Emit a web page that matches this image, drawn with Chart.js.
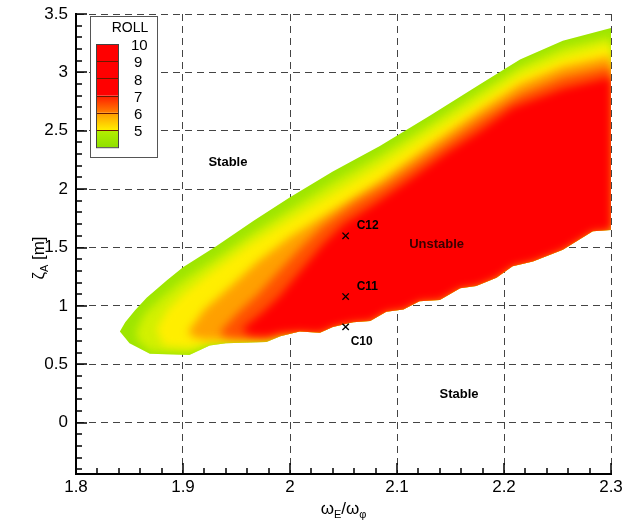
<!DOCTYPE html>
<html>
<head>
<meta charset="utf-8">
<script src="https://cdn.jsdelivr.net/npm/chart.js@4/dist/chart.umd.min.js"></script>
<style>
  html, body { margin: 0; padding: 0; background: #fff; }
</style>
</head>
<body>
<canvas id="roll" width="629" height="521"></canvas>
<script>
const xTicks = [1.8, 1.9, 2.0, 2.1, 2.2, 2.3];
const yTicks = [0, 0.5, 1, 1.5, 2, 2.5, 3, 3.5];
const rollLevels = [10, 9, 8, 7, 6, 5];

// bottom edge of the unstable zone, right part (same for every level)
const bottomEdge = [[2.300,1.65],[2.283,1.64],[2.255,1.48],[2.227,1.38],[2.208,1.34],[2.193,1.24],[2.174,1.17],[2.159,1.15],[2.140,1.05],[2.121,1.04],[2.106,0.97],[2.090,0.95],[2.075,0.87],[2.059,0.86],[2.040,0.82],[2.028,0.77],[2.009,0.78]];

// contour levels: top side from the tip to x = 2.3, then the left part of the bottom
const roll5Top = [[1.841,0.78],[1.846,0.86],[1.855,0.96],[1.866,1.07],[1.885,1.22],[1.900,1.33],[1.931,1.51],[1.966,1.73],[2.000,1.93],[2.040,2.15],[2.084,2.37],[2.131,2.63],[2.178,2.90],[2.215,3.11],[2.255,3.27],[2.300,3.38]];
const roll5Low = [[1.991,0.74],[1.978,0.69],[1.940,0.68],[1.925,0.66],[1.906,0.58],[1.869,0.59],[1.850,0.68]];

const roll55Top = [[1.856,0.78],[1.864,0.93],[1.880,1.07],[1.900,1.22],[1.931,1.41],[1.966,1.63],[2.000,1.83],[2.040,2.06],[2.084,2.29],[2.131,2.56],[2.178,2.84],[2.215,3.05],[2.255,3.21],[2.300,3.31]];
const roll55Low = [[1.991,0.75],[1.978,0.70],[1.940,0.69],[1.925,0.67],[1.906,0.60],[1.870,0.61],[1.858,0.70]];

const roll6Top = [[1.875,0.80],[1.885,0.96],[1.900,1.10],[1.925,1.28],[1.963,1.53],[2.000,1.74],[2.040,1.96],[2.084,2.20],[2.131,2.48],[2.178,2.76],[2.215,2.98],[2.255,3.13],[2.300,3.24]];
const roll6Low = [[1.991,0.755],[1.978,0.71],[1.940,0.70],[1.925,0.69],[1.906,0.64],[1.882,0.66]];

const roll65Top = [[1.905,0.78],[1.920,0.97],[1.945,1.17],[1.970,1.38],[2.000,1.59],[2.040,1.82],[2.084,2.07],[2.131,2.38],[2.178,2.68],[2.215,2.90],[2.255,3.05],[2.300,3.14]];
const roll65Low = [[1.991,0.76],[1.978,0.72],[1.945,0.71],[1.920,0.71],[1.908,0.74]];

const roll7Top = [[1.935,0.78],[1.950,0.93],[1.970,1.10],[1.990,1.30],[2.010,1.50],[2.030,1.68],[2.060,1.88],[2.090,2.04],[2.131,2.30],[2.178,2.60],[2.215,2.81],[2.255,2.96],[2.300,3.05]];
const roll7Low = [[1.991,0.76],[1.978,0.725],[1.950,0.72],[1.937,0.74]];

const roll8Top = [[1.955,0.80],[1.975,0.95],[1.990,1.08],[2.010,1.30],[2.030,1.52],[2.050,1.70],[2.080,1.88],[2.110,2.07],[2.146,2.31],[2.178,2.50],[2.208,2.70],[2.255,2.86],[2.300,2.96]];
const roll8Low = [[1.991,0.77],[1.978,0.74],[1.962,0.75]];

const caseNames = ['C10', 'C11', 'C12'];
const caseX = [2.052, 2.052, 2.052];
const caseY = [0.82, 1.08, 1.60];

const zoneNames = ['Stable', 'Unstable', 'Stable'];
const zoneX = [1.942, 2.137, 2.158];
const zoneY = [2.23, 1.53, 0.24];

const FONT = "'Liberation Sans', Arial, sans-serif";

const shape = (top, low) => top.concat(bottomEdge, low).map(([x, y]) => ({x, y}));
const outline = shape(roll5Top, roll5Low);

function layer(label, top, low, color, order, soft) {
    return {
        label: label,
        data: shape(top, low),
        showLine: true,
        fill: 'shape',
        backgroundColor: color,
        borderColor: 'rgba(0,0,0,0)',
        borderWidth: 0,
        pointRadius: 0,
        tension: 0,
        order: order,
        soft: soft
    };
}

// inner levels get blurred and clipped to the outer contour
const softEdges = {
    id: 'softEdges',
    beforeDatasetDraw(chart, args) {
        if (!chart.data.datasets[args.index].soft) return;
        const {ctx, scales: {x, y}} = chart;
        ctx.save();
        ctx.beginPath();
        outline.forEach((p, i) => {
            const px = x.getPixelForValue(p.x), py = y.getPixelForValue(p.y);
            if (i) ctx.lineTo(px, py); else ctx.moveTo(px, py);
        });
        ctx.closePath();
        ctx.clip();
        ctx.filter = 'blur(4px)';
    },
    afterDatasetDraw(chart, args) {
        if (chart.data.datasets[args.index].soft) chart.ctx.restore();
    }
};

// filler has to run after the blur setup
if (Chart.Filler) {
    Chart.unregister(Chart.Filler);
    Chart.register(softEdges, Chart.Filler);
} else {
    Chart.register(softEdges);
}

// inward major and minor ticks
const axisTicks = {
    id: 'axisTicks',
    afterDraw(chart) {
        const {ctx, chartArea: a, scales: {x, y}} = chart;
        ctx.save();
        ctx.setLineDash([]);
        ctx.filter = 'none';
        ctx.strokeStyle = '#000';
        ctx.lineWidth = 1.5;
        ctx.beginPath();
        for (let i = 0; i <= 25; i++) {
            const px = Math.round(x.getPixelForValue(1.8 + i * 0.02));
            ctx.moveTo(px, a.bottom);
            ctx.lineTo(px, a.bottom - (i % 5 === 0 ? 11 : 6));
        }
        for (let i = -4; i <= 35; i++) {
            const py = Math.round(y.getPixelForValue(i / 10));
            ctx.moveTo(a.left, py);
            ctx.lineTo(a.left + (i % 5 === 0 ? 11 : 6), py);
        }
        ctx.stroke();
        ctx.restore();
    }
};

const decorations = {
    id: 'decorations',
    afterDraw(chart) {
        const {ctx, chartArea: a, scales: {x, y}} = chart;
        ctx.save();

        // zone labels
        ctx.textAlign = 'center';
        ctx.textBaseline = 'middle';
        ctx.font = 'bold 13px ' + FONT;
        zoneNames.forEach((t, i) => {
            ctx.fillStyle = t === 'Unstable' ? '#3a0000' : '#000';
            ctx.fillText(t, x.getPixelForValue(zoneX[i]), y.getPixelForValue(zoneY[i]));
        });

        // case labels
        ctx.fillStyle = '#000';
        ctx.font = 'bold 12px ' + FONT;
        ctx.textAlign = 'left';
        caseNames.forEach((t, i) => {
            const px = x.getPixelForValue(caseX[i]), py = y.getPixelForValue(caseY[i]);
            if (i === 0) ctx.fillText(t, px + 5, py + 15);
            else ctx.fillText(t, px + 11, py - 10);
        });

        // axis titles
        ctx.textAlign = 'left';
        ctx.textBaseline = 'alphabetic';
        const big = '17px ' + FONT, sub = '11px ' + FONT;
        const parts = [['ω', false], ['E', true], ['/ω', false], ['φ', true]];
        let w = 0;
        parts.forEach(([t, s]) => { ctx.font = s ? sub : big; w += ctx.measureText(t).width; });
        let cx = (a.left + a.right) / 2 - w / 2;
        parts.forEach(([t, s]) => {
            ctx.font = s ? sub : big;
            ctx.fillText(t, cx, s ? 518 : 514);
            cx += ctx.measureText(t).width;
        });

        ctx.translate(44, 258);
        ctx.rotate(-Math.PI / 2);
        const yparts = [['ζ', false], ['A', true], [' [m]', false]];
        w = 0;
        yparts.forEach(([t, s]) => { ctx.font = s ? sub : big; w += ctx.measureText(t).width; });
        cx = -w / 2;
        yparts.forEach(([t, s]) => {
            ctx.font = s ? sub : big;
            ctx.fillText(t, cx, s ? 4 : 0);
            cx += ctx.measureText(t).width;
        });
        ctx.restore();

        // legend box
        ctx.save();
        ctx.fillStyle = '#fff';
        ctx.fillRect(90.5, 16.5, 67, 141);
        ctx.strokeStyle = '#555';
        ctx.lineWidth = 1;
        ctx.strokeRect(90.5, 16.5, 67, 141);
        ctx.fillStyle = '#000';
        ctx.font = '14px ' + FONT;
        ctx.textAlign = 'center';
        ctx.textBaseline = 'middle';
        ctx.fillText('ROLL', 130, 28);

        const barTop = 44, step = 17.2, barL = 96, barW = 22;
        const fills = [['#ff0000', '#ff0000'], ['#ff0000', '#ff0000'], ['#ff0000', '#ff0000'],
                       ['#ff1a00', '#ff8000'], ['#ff9900', '#ffee00'], ['#b4f000', '#90e000']];
        fills.forEach(([c1, c2], i) => {
            const t = barTop + i * step;
            const g = ctx.createLinearGradient(0, t, 0, t + step);
            g.addColorStop(0, c1);
            g.addColorStop(1, c2);
            ctx.fillStyle = g;
            ctx.fillRect(barL, t, barW, step);
        });
        ctx.strokeStyle = '#6a1a00';
        ctx.beginPath();
        for (let i = 1; i < fills.length; i++) {
            const t = Math.round(barTop + i * step) + 0.5;
            ctx.moveTo(barL, t);
            ctx.lineTo(barL + barW, t);
        }
        ctx.stroke();
        ctx.strokeStyle = '#444';
        ctx.strokeRect(barL + 0.5, barTop + 0.5, barW, step * fills.length);

        ctx.fillStyle = '#000';
        ctx.font = '15px ' + FONT;
        ctx.textAlign = 'left';
        rollLevels.forEach((lv, i) => {
            ctx.fillText(String(lv), lv === 10 ? 131 : 134, barTop + 2 + i * step);
        });
        ctx.restore();
    }
};

const fmt = v => String(Math.round(v * 10) / 10);

new Chart(document.getElementById('roll'), {
    type: 'scatter',
    data: {
        datasets: [
            {
                label: 'cases',
                data: caseX.map((x, i) => ({x, y: caseY[i]})),
                pointStyle: 'crossRot',
                pointRadius: 4.5,
                borderColor: '#000',
                borderWidth: 1.3,
                backgroundColor: '#000',
                order: 0
            },
            layer('roll 8', roll8Top, roll8Low, '#ff0000', 1, true),
            layer('roll 7', roll7Top, roll7Low, '#ff5200', 2, true),
            layer('roll 6.5', roll65Top, roll65Low, '#ffa000', 3, true),
            layer('roll 6', roll6Top, roll6Low, '#ffee00', 4, true),
            layer('roll 5.5', roll55Top, roll55Low, '#d2f000', 5, true),
            layer('roll 5', roll5Top, roll5Low, '#9ee600', 6, false)
        ]
    },
    options: {
        responsive: false,
        animation: false,
        devicePixelRatio: 1,
        layout: { padding: { left: 0, top: 14, right: 18, bottom: 0 } },
        plugins: {
            legend: { display: false },
            tooltip: { enabled: false }
        },
        scales: {
            x: {
                type: 'linear',
                min: 1.8,
                max: 2.3,
                afterBuildTicks: s => { s.ticks = xTicks.map(v => ({value: v})); },
                afterFit: s => { s.height = 47; },
                ticks: { color: '#000', font: { family: FONT, size: 17 }, padding: 3, callback: fmt, maxRotation: 0 },
                grid: { color: '#444', lineWidth: 1, drawTicks: false },
                border: { display: true, color: '#000', width: 2, dash: [7, 5] }
            },
            y: {
                type: 'linear',
                min: -0.44,
                max: 3.5,
                afterBuildTicks: s => { s.ticks = yTicks.map(v => ({value: v})); },
                afterFit: s => { s.width = 76; s.paddingTop = 0; s.paddingBottom = 0; },
                ticks: { color: '#000', font: { family: FONT, size: 17 }, padding: 8, callback: fmt },
                grid: { color: '#444', lineWidth: 1, drawTicks: false },
                border: { display: true, color: '#000', width: 2, dash: [7, 5] }
            }
        }
    },
    plugins: [axisTicks, decorations]
});
</script>
</body>
</html>
